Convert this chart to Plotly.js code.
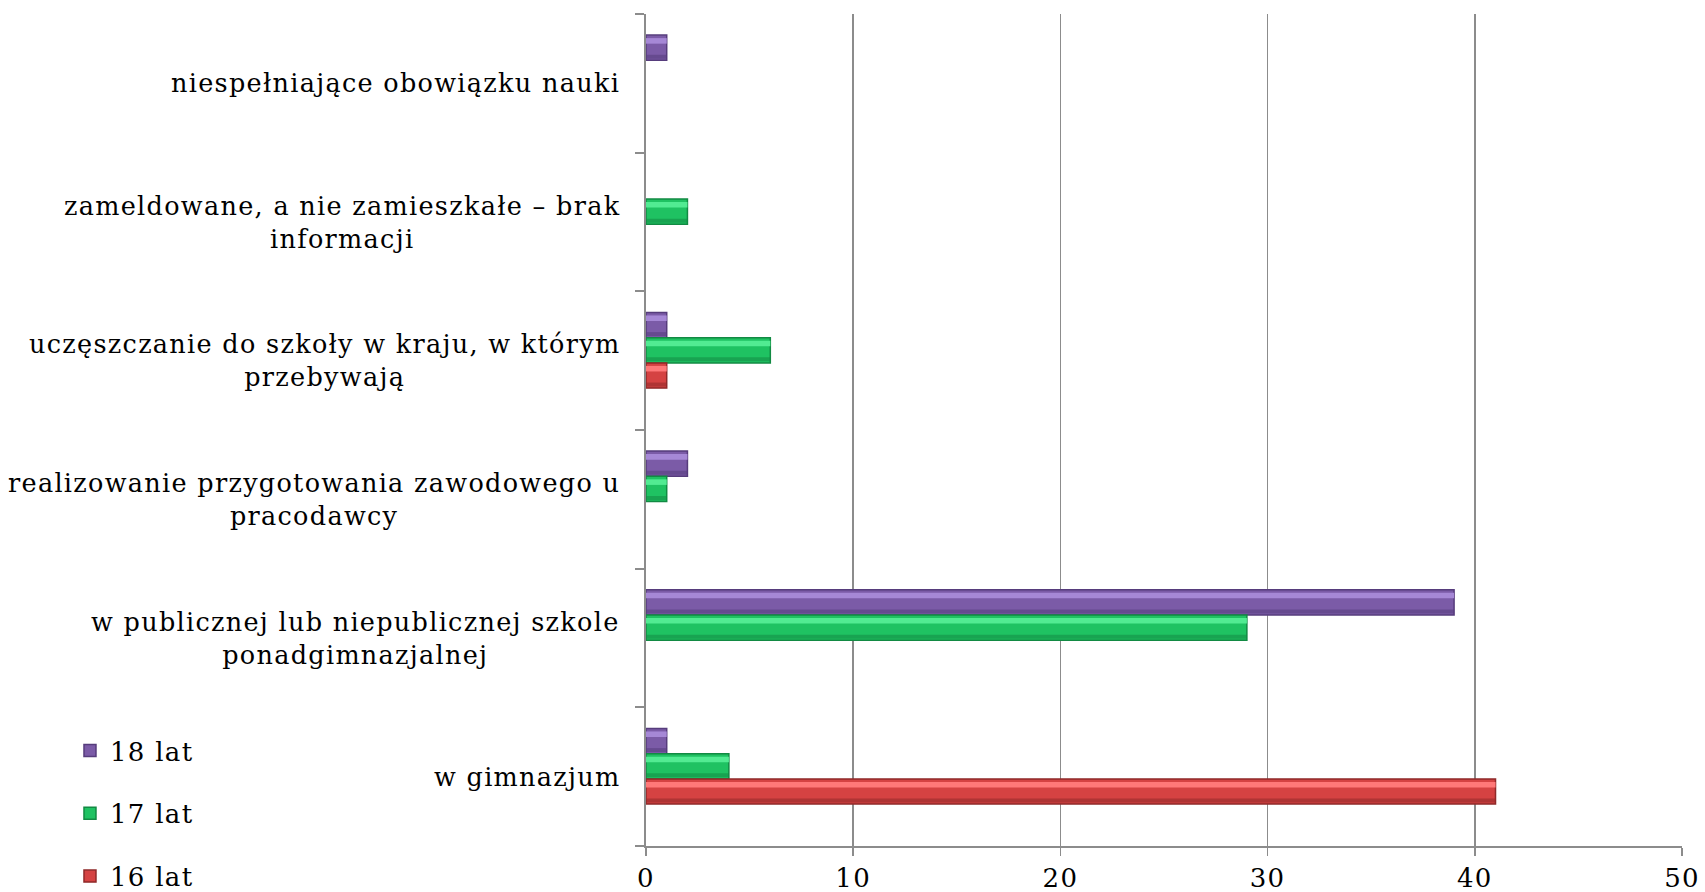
<!DOCTYPE html>
<html>
<head>
<meta charset="utf-8">
<script src="https://cdn.plot.ly/plotly-3.0.1.min.js"></script>
<style>
html,body{margin:0;padding:0;background:#fff;}
#chart{width:1705px;height:892px;}
svg text{letter-spacing:1.3px;}
</style>
</head>
<body>
<div id="chart"></div>
<script>
// Categories listed bottom to top
const categories = [
  "w gimnazjum",
  "w publicznej lub niepublicznej szkole<br>ponadgimnazjalnej",
  "realizowanie przygotowania zawodowego u<br>pracodawcy",
  "uczęszczanie do szkoły w kraju, w którym<br>przebywają",
  "zameldowane, a nie zamieszkałe – brak<br>informacji",
  "niespełniające obowiązku nauki"
];
const seriesNames = ["18 lat", "17 lat", "16 lat"];
const values18 = [1, 39, 2, 1, null, 1];
const values17 = [4, 29, 1, 6, 2, null];
const values16 = [41, null, null, 1, null, null];
const xTicks = [0, 10, 20, 30, 40, 50];

const FONT = "'DejaVu Serif', 'Liberation Serif', serif";
const pos = categories.map((c, i) => i);
const W = 0.182;

const series = [
  {name: seriesNames[0], vals: values18, off: 0.166, mid: "#7b5ba7", light: "#a688d6", dark: "#563c7c"},
  {name: seriesNames[1], vals: values17, off: -0.016, mid: "#1fc262", light: "#52eb92", dark: "#128a43"},
  {name: seriesNames[2], vals: values16, off: -0.198, mid: "#d54242", light: "#ff7878", dark: "#8f2929"}
];

const traces = [];
series.forEach((s, k) => {
  traces.push({
    type: "bar", orientation: "h", name: s.name, x: s.vals, y: pos,
    width: W, offset: s.off,
    marker: {color: s.mid, line: {color: s.dark, width: 1.5}},
    legendgroup: "g" + k, hoverinfo: "x+name"
  });
  traces.push({
    type: "bar", orientation: "h", name: s.name, x: s.vals, y: pos,
    width: W * 0.22, offset: s.off + W * 0.66,
    marker: {color: s.light, line: {width: 0}},
    legendgroup: "g" + k, showlegend: false, hoverinfo: "skip"
  });
  traces.push({
    type: "bar", orientation: "h", name: s.name, x: s.vals, y: pos,
    width: W * 0.16, offset: s.off + W * 0.06,
    marker: {color: s.dark, opacity: 0.55, line: {width: 0}},
    legendgroup: "g" + k, showlegend: false, hoverinfo: "skip"
  });
});

const annotations = categories.map((c, i) => ({
  text: c, xref: "paper", yref: "y", x: -0.023, y: i,
  xanchor: "right", yanchor: "middle", align: "center", showarrow: false,
  font: {family: FONT, size: 25.5, color: "#000"}
}));

const layout = {
  width: 1705, height: 892,
  margin: {l: 645.5, r: 22.5, t: 14, b: 46, pad: 0, autoexpand: false},
  paper_bgcolor: "#fff", plot_bgcolor: "#fff",
  barmode: "overlay",
  font: {family: FONT, size: 25, color: "#000"},
  xaxis: {
    range: [0, 50], tickvals: xTicks, ticktext: xTicks.map(String),
    showgrid: true, gridcolor: "#8c8c8c", gridwidth: 1.5,
    zeroline: false, showline: true, linecolor: "#8c8c8c", linewidth: 2,
    ticks: "outside", ticklen: 8, tickcolor: "#8c8c8c", tickwidth: 1.5,
    tickfont: {family: FONT, size: 26, color: "#000"}, fixedrange: true, automargin: false
  },
  yaxis: {
    range: [-0.5, 5.5],
    tickvals: [-0.5, 0.5, 1.5, 2.5, 3.5, 4.5, 5.5], ticktext: ["", "", "", "", "", "", ""],
    showgrid: false, zeroline: false, showline: true, linecolor: "#8c8c8c", linewidth: 2,
    ticks: "outside", ticklen: 9, tickcolor: "#8c8c8c", tickwidth: 2, fixedrange: true, automargin: false
  },
  showlegend: true,
  legend: {
    x: -0.556, xanchor: "left", y: -0.065, yanchor: "bottom",
    traceorder: "grouped", tracegroupgap: 26,
    bgcolor: "rgba(0,0,0,0)", font: {family: FONT, size: 26, color: "#000"}
  },
  annotations: annotations
};

Plotly.newPlot("chart", traces, layout, {displayModeBar: false, staticPlot: true});
</script>
</body>
</html>
